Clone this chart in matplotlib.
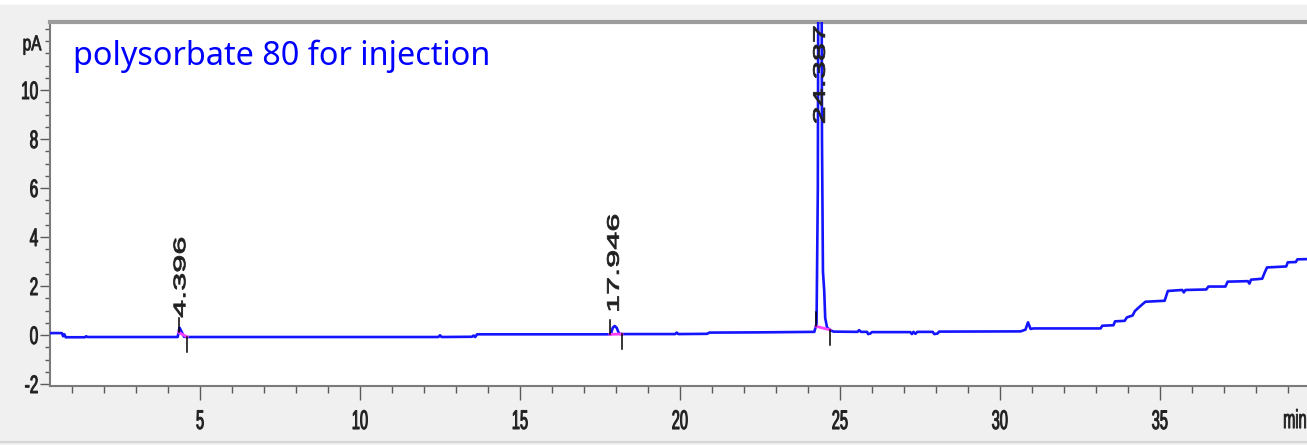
import numpy as np
import matplotlib
matplotlib.use("Agg")
import matplotlib.pyplot as plt
from matplotlib.patheffects import AbstractPathEffect
from matplotlib.transforms import Affine2D
from matplotlib.lines import Line2D

# chromatogram trace
time_min = [0.31, 0.68, 0.72, 0.76, 0.80, 1.40, 1.44, 1.48,
            4.30, 4.36, 4.42, 4.50, 4.60,
            12.45, 12.50, 12.55,
            13.50, 13.55, 13.60, 13.66,
            17.84, 17.90, 17.96, 18.02, 18.10, 18.20,
            19.85, 19.90, 19.95,
            20.85, 20.92, 22.50, 24.20,
            24.27, 24.31, 24.35, 24.40, 24.44, 24.47, 24.51, 24.54, 24.60, 24.70, 24.80,
            25.55, 25.60, 25.66, 25.85, 25.88, 25.95, 26.00,
            27.20, 27.25, 27.30, 27.36, 27.42,
            27.90, 27.95, 28.05, 28.10,
            30.65, 30.80, 30.88, 30.96, 31.05,
            33.15, 33.20, 33.55, 33.60, 33.90, 33.97, 34.15, 34.22, 34.32, 34.45, 34.55,
            35.15, 35.25, 35.70, 35.75, 35.80, 36.45, 36.52, 37.05, 37.12, 37.75, 37.80,
            37.85, 38.20, 38.28, 38.35, 38.95, 39.00, 39.25, 39.30, 39.60]
signal_pA = [0.08, 0.08, -0.05, 0.03, -0.09, -0.09, -0.05, -0.08,
             -0.08, 0.30, 0.14, -0.07, -0.08,
             -0.08, -0.01, -0.08,
             -0.07, -0.02, -0.08, 0.03,
             0.03, 0.30, 0.37, 0.30, 0.05, 0.04,
             0.04, 0.10, 0.04,
             0.05, 0.10, 0.11, 0.13,
             0.45, 6.0, 30.0, 30.0, 8.0, 2.6, 1.8, 0.7, 0.3, 0.2, 0.14,
             0.13, 0.20, 0.13, 0.13, 0.04, 0.06, 0.12,
             0.12, 0.04, 0.13, 0.05, 0.13,
             0.13, 0.04, 0.06, 0.14,
             0.15, 0.22, 0.52, 0.25, 0.27,
             0.27, 0.38, 0.40, 0.56, 0.58, 0.72, 0.80, 0.98, 1.10, 1.25, 1.36,
             1.40, 1.80, 1.84, 1.74, 1.84, 1.86, 1.98, 1.98, 2.18, 2.20, 2.10,
             2.26, 2.30, 2.56, 2.76, 2.80, 2.97, 2.98, 3.09, 3.10]

# integrated peaks
peak_rt = [4.396, 17.946, 24.387]
peak_start = [4.33, 17.81, 24.25]
peak_end = [4.60, 18.19, 24.69]

xticks = [5, 10, 15, 20, 25, 30, 35]
yticks = [-2, 0, 2, 4, 6, 8, 10]

label_y = [0.70, 0.90, 8.60]  # where the rotated RT labels start


class Stretch(AbstractPathEffect):
    # old instrument screenshot has tall, narrow glyphs
    def __init__(self, sx=1.0, sy=1.0, stroke=0.0):
        super().__init__()
        self.sx, self.sy, self.stroke = sx, sy, stroke

    def draw_path(self, renderer, gc, tpath, affine, rgbFace=None):
        ext = tpath.get_extents()
        cy = (ext.y0 + ext.y1) / 2
        t = Affine2D().translate(0, -cy).scale(self.sx, self.sy).translate(0, cy)
        gc.set_linewidth(self.stroke)
        renderer.draw_path(gc, tpath, t + affine, rgbFace)


FONT = ['Liberation Sans', 'DejaVu Sans']
BG = '#f0f0f0'
TICKC = '#5a5a5a'
LABC = '#202020'

fig = plt.figure(figsize=(13.07, 4.45), dpi=100, facecolor=BG)
ax = fig.add_axes([50 / 1307, 59 / 445, 1257 / 1307, 364 / 445])
ax.set_facecolor('white')

ax.plot(time_min, signal_pA, color='#1414ff', lw=1.9, zorder=3)

# baseline drawn under each integrated peak + start/stop tick marks
for s, e in zip(peak_start, peak_end):
    b0 = np.interp(s, time_min, signal_pA)
    b1 = np.interp(e, time_min, signal_pA)
    ax.plot([s, e], [b0, b1], color='#ff40ff', lw=2.0, zorder=4)
    ax.plot([s, s], [b0, b0 + 0.6], color='black', lw=1.1, zorder=5)
    ax.plot([e, e], [b1, b1 - 0.6], color='black', lw=1.1, zorder=5)

for rt, ly in zip(peak_rt, label_y):
    ax.text(rt, ly, f"{rt:.3f}", rotation=90, rotation_mode='anchor',
            ha='left', va='center', fontsize=12, family=FONT, color=LABC,
            clip_on=True, zorder=6, path_effects=[Stretch(sx=1.95, stroke=0.6)])

ax.set_xlim(0.31, 39.6)
ax.set_ylim(-2.08, 12.78)

ax.set_xticks(xticks, [str(v) for v in xticks])
ax.set_xticks(np.arange(1, 40), minor=True)
ax.set_yticks(yticks, [str(v) for v in yticks])
ax.set_yticks(np.arange(-2, 12.6, 0.5), minor=True)

ax.tick_params(axis='x', which='major', length=10, width=1.0, color=TICKC, pad=10,
               labelsize=10.5, labelcolor=LABC)
ax.tick_params(axis='x', which='minor', length=5, width=1.0, color=TICKC)
ax.tick_params(axis='y', which='major', length=7, width=1.0, color=TICKC, pad=1.5,
               labelsize=11, labelcolor=LABC)
ax.tick_params(axis='y', which='minor', length=3.6, width=1.0, color=TICKC)
for lab in ax.get_xticklabels():
    lab.set_family(FONT)
    lab.set_path_effects([Stretch(sy=1.85, stroke=0.7)])
for lab in ax.get_yticklabels():
    lab.set_family(FONT)
    lab.set_path_effects([Stretch(sy=1.65, stroke=0.7)])

for side in ['left', 'bottom']:
    ax.spines[side].set_color('#7a7a7a')
    ax.spines[side].set_linewidth(1.5)
ax.spines['top'].set_color('#9c9c9c')
ax.spines['top'].set_linewidth(3.0)
ax.spines['right'].set_visible(False)

# units
ax.text(-0.007, 11.85, "pA", transform=ax.get_yaxis_transform(), ha='right', va='center',
        fontsize=11, family=FONT, color=LABC, clip_on=False,
        path_effects=[Stretch(sy=1.4, stroke=0.6)])
ax.text(0.9905, -0.093, "min", transform=ax.transAxes, ha='center', va='center',
        fontsize=10.5, family=FONT, color=LABC, clip_on=False,
        path_effects=[Stretch(sy=1.8, stroke=0.6)])

ax.text(0.0183, 0.882, "polysorbate 80 for injection", transform=ax.transAxes,
        ha='left', va='baseline', fontsize=23.3, color='#0000ff',
        family=['Noto Sans', 'DejaVu Sans'], zorder=7)

# window frame bits
fig.add_artist(Line2D([0, 1], [1 - 2 / 445, 1 - 2 / 445], color='white', lw=4))
fig.add_artist(Line2D([0, 1], [1 - 442 / 445, 1 - 442 / 445], color='#d6d6d6', lw=1.5))

fig.savefig("out.png", dpi=100, facecolor=BG)
